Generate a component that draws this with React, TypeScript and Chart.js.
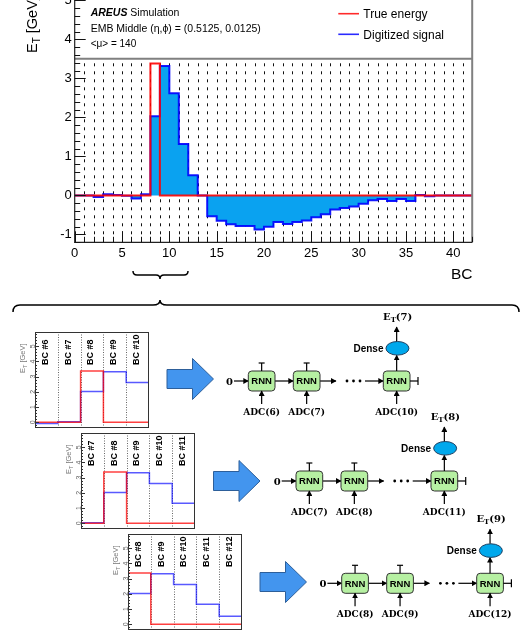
import React, { useEffect, useRef } from "react";
import { Chart, registerables } from "chart.js";

Chart.register(...registerables);

// ---------------- data ----------------
const digitizedSignal = [
  0.0, 0.0, -0.04, 0.03, 0.01, -0.01, -0.08, 0.03, 2.03, 3.32,
  2.62, 1.32, 0.52, 0.0, -0.53, -0.65, -0.74, -0.78, -0.78, -0.87,
  -0.8, -0.68, -0.73, -0.68, -0.64, -0.56, -0.48, -0.36, -0.32, -0.28,
  -0.21, -0.12, -0.09, -0.14, -0.09, -0.14, 0.01, -0.02, 0.0, 0.0,
  0.0, 0.0,
];
const trueEnergy = [
  0, 0, 0, 0, 0, 0, 0, 0, 3.38, 0,
  0, 0, 0, 0, 0, 0, 0, 0, 0, 0,
  0, 0, 0, 0, 0, 0, 0, 0, 0, 0,
  0, 0, 0, 0, 0, 0, 0, 0, 0, 0,
  0, 0,
];
const xTickLabels = [0, 5, 10, 15, 20, 25, 30, 35, 40];
const yTickLabels = [-1, 0, 1, 2, 3, 4, 5];
const legendLabels = ["True energy", "Digitized signal"];
const windowStartBC = [6, 7, 8];
const windowSize = 5;
const smallYTickLabels = [0, 1, 2, 3, 4, 5];
const adcInputs = [
  [6, 7, 10],
  [7, 8, 11],
  [8, 9, 12],
];
const etOutputs = [7, 8, 9];

const SANS = "'Liberation Sans', Arial, Helvetica, sans-serif";
const SERIF = "'DejaVu Serif', 'Liberation Serif', serif";

function stepPoints(vals: number[]) {
  const pts = vals.map((v, i) => ({ x: i, y: v }));
  pts.push({ x: vals.length, y: vals[vals.length - 1] });
  return pts;
}

// ---------------- main chart ----------------
const mainPlugin = {
  id: "rootStyle",
  beforeDatasetsDraw(chart: any) {
    const { ctx, chartArea: a, scales } = chart;
    const x = scales.x, y = scales.y;
    const top = y.getPixelForValue(3.5);
    ctx.save();
    ctx.strokeStyle = "#111";
    ctx.lineWidth = 1;
    ctx.setLineDash([3, 5]);
    for (let i = 1; i < 42; i++) {
      const px = Math.round(x.getPixelForValue(i)) + 0.5;
      ctx.beginPath();
      ctx.moveTo(px, a.bottom);
      ctx.lineTo(px, top);
      ctx.stroke();
    }
    ctx.restore();
  },
  afterDatasetsDraw(chart: any) {
    const { ctx, chartArea: a, scales } = chart;
    const x = scales.x, y = scales.y;
    const boxB = y.getPixelForValue(3.5);
    ctx.save();
    ctx.fillStyle = "#fff";
    ctx.fillRect(a.left, a.top - 30, a.right - a.left, boxB - a.top + 30);
    ctx.strokeStyle = "#808080";
    ctx.lineWidth = 2;
    ctx.beginPath();
    ctx.moveTo(a.left, boxB);
    ctx.lineTo(a.right, boxB);
    ctx.moveTo(a.right, a.top - 30);
    ctx.lineTo(a.right, a.bottom);
    ctx.stroke();
    // axes
    ctx.strokeStyle = "#222";
    ctx.lineWidth = 1.2;
    ctx.beginPath();
    ctx.moveTo(a.left, a.top - 30);
    ctx.lineTo(a.left, a.bottom);
    ctx.lineTo(a.right, a.bottom);
    ctx.stroke();
    // ticks
    ctx.lineWidth = 1;
    ctx.strokeStyle = "#111";
    ctx.beginPath();
    for (let k = -6; k <= 26; k++) {
      const py = Math.round(y.getPixelForValue(k / 5)) + 0.5;
      const len = k % 5 === 0 ? 11 : 5.5;
      ctx.moveTo(a.left, py);
      ctx.lineTo(a.left + len, py);
    }
    for (let i = 0; i <= 42; i++) {
      const px = Math.round(x.getPixelForValue(i)) + 0.5;
      const len = i % 5 === 0 ? 11 : 5.5;
      ctx.moveTo(px, a.bottom);
      ctx.lineTo(px, a.bottom - len);
    }
    ctx.stroke();
    ctx.restore();
  },
};

function MainChart() {
  const ref = useRef<HTMLCanvasElement>(null);
  useEffect(() => {
    const chart = new Chart(ref.current as HTMLCanvasElement, {
      type: "line",
      data: {
        datasets: [
          {
            label: legendLabels[0],
            data: stepPoints(trueEnergy),
            stepped: true,
            borderColor: "rgba(255,0,0,0.9)",
            borderWidth: 2,
            fill: false,
            pointRadius: 0,
          },
          {
            label: legendLabels[1],
            data: stepPoints(digitizedSignal),
            stepped: true,
            borderColor: "rgba(0,0,255,0.9)",
            borderWidth: 2,
            backgroundColor: "#0aa2f0",
            fill: "origin",
            pointRadius: 0,
          },
        ],
      } as any,
      options: {
        animation: false,
        responsive: false,
        devicePixelRatio: 1,
        events: [],
        layout: { padding: { left: 14.7, right: 49.8, top: 12.5, bottom: 5.7 } },
        plugins: { legend: { display: false }, tooltip: { enabled: false } },
        scales: {
          x: {
            type: "linear",
            min: 0,
            max: 42,
            afterFit: (s: any) => {
              s.height = 22;
            },
            afterBuildTicks: (s: any) => {
              s.ticks = xTickLabels.map((v) => ({ value: v }));
            },
            grid: { display: false, drawTicks: false },
            border: { display: false },
            ticks: {
              font: { family: SANS, size: 13 },
              color: "#000",
              padding: 3,
              maxRotation: 0,
              autoSkip: false,
            },
          },
          y: {
            type: "linear",
            min: -1.2,
            max: 5.2,
            afterFit: (s: any) => {
              s.width = 60;
            },
            afterBuildTicks: (s: any) => {
              s.ticks = yTickLabels.map((v) => ({ value: v }));
            },
            grid: { display: false, drawTicks: false },
            border: { display: false },
            ticks: {
              font: { family: SANS, size: 13 },
              color: "#000",
              padding: 3,
              autoSkip: false,
            },
          },
        },
      } as any,
      plugins: [mainPlugin],
    });
    return () => chart.destroy();
  }, []);
  return (
    <canvas
      ref={ref}
      width={522}
      height={290}
      style={{ position: "absolute", left: 0, top: -20, width: 522, height: 290 }}
    />
  );
}

// ---------------- small charts ----------------
const PADL = 26, PADT = 4, PADR = 4, PADB = 4;
const SW = 114, SH = 96;

function makeSmallPlugin(startBC: number) {
  return {
    id: "smallFrame",
    beforeDatasetsDraw(chart: any) {
      const { ctx, chartArea: a, scales } = chart;
      const x = scales.x;
      ctx.save();
      ctx.strokeStyle = "#666";
      ctx.lineWidth = 1;
      ctx.setLineDash([1, 1.5]);
      for (let i = 1; i < windowSize; i++) {
        const px = Math.round(x.getPixelForValue(i)) + 0.5;
        ctx.beginPath();
        ctx.moveTo(px, a.top);
        ctx.lineTo(px, a.bottom);
        ctx.stroke();
      }
      ctx.restore();
    },
    afterDraw(chart: any) {
      const { ctx, chartArea: a, scales } = chart;
      const x = scales.x, y = scales.y;
      ctx.save();
      ctx.strokeStyle = "#333";
      ctx.lineWidth = 1;
      ctx.strokeRect(a.left + 0.5, a.top + 0.5, a.right - a.left - 1, a.bottom - a.top - 1);
      // ticks
      ctx.beginPath();
      for (let k = -1; k <= 29; k++) {
        const py = Math.round(y.getPixelForValue(k / 5)) + 0.5;
        if (py < a.top || py > a.bottom) continue;
        const len = k % 5 === 0 ? 4 : 2;
        ctx.moveTo(a.left, py);
        ctx.lineTo(a.left + len, py);
      }
      ctx.stroke();
      // tick labels (rotated)
      ctx.fillStyle = "#666";
      ctx.font = `7px ${SANS}`;
      ctx.textAlign = "center";
      ctx.textBaseline = "middle";
      smallYTickLabels.forEach((v) => {
        const py = y.getPixelForValue(v);
        ctx.save();
        ctx.translate(a.left - 2, py);
        ctx.rotate(-Math.PI / 2);
        ctx.fillText(String(v), 0, 0);
        ctx.restore();
      });
      // y title
      ctx.save();
      ctx.translate(a.left - 12, a.top + 41);
      ctx.rotate(-Math.PI / 2);
      ctx.fillStyle = "#777";
      ctx.textAlign = "left";
      ctx.textBaseline = "middle";
      ctx.font = `7.5px ${SANS}`;
      ctx.fillText("E", 0, 0);
      let w = ctx.measureText("E").width;
      ctx.font = `5.5px ${SANS}`;
      ctx.fillText("T", w, 2);
      w += ctx.measureText("T").width;
      ctx.font = `7.5px ${SANS}`;
      ctx.fillText(" [GeV]", w, 0);
      ctx.restore();
      // BC labels
      ctx.fillStyle = "#000";
      ctx.font = `bold 9px ${SANS}`;
      ctx.textAlign = "left";
      ctx.textBaseline = "middle";
      for (let i = 0; i < windowSize; i++) {
        const cx = x.getPixelForValue(i + 0.5);
        ctx.save();
        ctx.translate(cx - 1, a.top + 33);
        ctx.rotate(-Math.PI / 2);
        ctx.fillText(`BC #${startBC + i}`, 0, 0);
        ctx.restore();
      }
      ctx.restore();
    },
  };
}

function SmallChart({ startBC, left, top }: { startBC: number; left: number; top: number }) {
  const ref = useRef<HTMLCanvasElement>(null);
  useEffect(() => {
    const blue = digitizedSignal.slice(startBC, startBC + windowSize);
    const red = trueEnergy.slice(startBC, startBC + windowSize);
    const chart = new Chart(ref.current as HTMLCanvasElement, {
      type: "line",
      data: {
        datasets: [
          {
            data: stepPoints(red),
            stepped: true,
            borderColor: "rgba(255,0,0,0.75)",
            borderWidth: 1.5,
            fill: false,
            pointRadius: 0,
          },
          {
            data: stepPoints(blue),
            stepped: true,
            borderColor: "rgba(0,0,255,0.65)",
            borderWidth: 1.5,
            fill: false,
            pointRadius: 0,
          },
        ],
      } as any,
      options: {
        animation: false,
        responsive: false,
        devicePixelRatio: 1,
        events: [],
        layout: { padding: { left: PADL, right: PADR, top: PADT, bottom: PADB } },
        plugins: { legend: { display: false }, tooltip: { enabled: false } },
        scales: {
          x: { type: "linear", min: 0, max: windowSize, display: false },
          y: { type: "linear", min: -0.38, max: 5.94, display: false },
        },
      } as any,
      plugins: [makeSmallPlugin(startBC)],
    });
    return () => chart.destroy();
  }, [startBC]);
  const W = SW + PADL + PADR, H = SH + PADT + PADB;
  return (
    <canvas
      ref={ref}
      width={W}
      height={H}
      style={{ position: "absolute", left: left - PADL, top: top - PADT, width: W, height: H }}
    />
  );
}

// ---------------- diagram parts ----------------
function Arr({ x1, y1, x2, y2 }: { x1: number; y1: number; x2: number; y2: number }) {
  return <line x1={x1} y1={y1} x2={x2} y2={y2} stroke="#000" strokeWidth={1.2} markerEnd="url(#ah)" />;
}

function BlockArrow({ left, cy }: { left: number; cy: number }) {
  const L = 46.5, head = 21, sh = 9.5, hh = 20.5;
  const b = left + L - head;
  const pts = [
    [left, cy - sh],
    [b, cy - sh],
    [b, cy - hh],
    [left + L, cy],
    [b, cy + hh],
    [b, cy + sh],
    [left, cy + sh],
  ]
    .map((p) => p.join(","))
    .join(" ");
  return <polygon points={pts} fill="#4395ee" stroke="#2d5f9a" strokeWidth={1} />;
}

function RnnDiagram({ dx, dy, adc, et }: { dx: number; dy: number; adc: number[]; et: number }) {
  const boxX = [248.3, 293.3, 383.3];
  const bw = 26.7, bh = 20, by = 371, cy = 381;
  const cx = boxX.map((b) => b + bw / 2);
  const ex = cx[2] + 0.8, ey = 348.3;
  return (
    <g transform={`translate(${dx} ${dy})`}>
      <text x={229.5} y={cy + 3.5} fontFamily={SERIF} fontWeight="bold" fontSize={10} textAnchor="middle">
        0
      </text>
      <Arr x1={234} y1={cy} x2={boxX[0]} y2={cy} />
      <Arr x1={boxX[0] + bw} y1={cy} x2={boxX[1]} y2={cy} />
      <Arr x1={boxX[1] + bw} y1={cy} x2={336} y2={cy} />
      {[347, 353.5, 360].map((d) => (
        <circle key={d} cx={d} cy={cy} r={1.4} fill="#000" />
      ))}
      <Arr x1={365} y1={cy} x2={boxX[2]} y2={cy} />
      {boxX.map((b, i) => (
        <g key={i}>
          <rect x={b} y={by} width={bw} height={bh} rx={3.5} fill="#b6f0a2" stroke="#333" strokeWidth={1} />
          <text x={cx[i]} y={cy + 3.4} fontFamily={SANS} fontWeight="bold" fontSize={9.5} textAnchor="middle">
            RNN
          </text>
          <Arr x1={cx[i]} y1={by + bh + 13} x2={cx[i]} y2={by + bh} />
          <text x={cx[i]} y={by + bh + 24} fontFamily={SERIF} fontWeight="bold" fontSize={9} textAnchor="middle">
            {`ADC(${adc[i]})`}
          </text>
        </g>
      ))}
      {[0, 1].map((i) => (
        <g key={"t" + i}>
          <line x1={cx[i]} y1={by} x2={cx[i]} y2={by - 8} stroke="#000" strokeWidth={1.2} />
          <line x1={cx[i] - 3} y1={by - 8} x2={cx[i] + 3} y2={by - 8} stroke="#000" strokeWidth={1.2} />
        </g>
      ))}
      <line x1={boxX[2] + bw} y1={cy} x2={boxX[2] + bw + 8} y2={cy} stroke="#000" strokeWidth={1.2} />
      <line x1={boxX[2] + bw + 8} y1={cy - 4} x2={boxX[2] + bw + 8} y2={cy + 4} stroke="#000" strokeWidth={1.2} />
      <Arr x1={cx[2]} y1={by} x2={cx[2]} y2={ey + 7} />
      <ellipse cx={ex} cy={ey} rx={11.5} ry={6.8} fill="#00a8ec" stroke="#1f3f60" strokeWidth={1} />
      <text x={ex - 14} y={ey + 3.4} fontFamily={SANS} fontWeight="bold" fontSize={10} textAnchor="end">
        Dense
      </text>
      <Arr x1={cx[2]} y1={ey - 7} x2={cx[2]} y2={327} />
      <text x={cx[2] + 1} y={319.5} fontFamily={SERIF} fontWeight="bold" fontSize={10} textAnchor="middle">
        <tspan>E</tspan>
        <tspan dy={2} fontSize={7}>
          T
        </tspan>
        <tspan dy={-2}>{`(${et})`}</tspan>
      </text>
    </g>
  );
}

const smallPos = [
  { left: 35, top: 332 },
  { left: 81, top: 433 },
  { left: 128, top: 534 },
];
const arrowPos = [
  { left: 167, cy: 379 },
  { left: 213.5, cy: 481 },
  { left: 260, cy: 582 },
];
const diagramOffsets = [
  { dx: 0, dy: 0 },
  { dx: 47.7, dy: 100 },
  { dx: 93.4, dy: 202.3 },
];

export default function App() {
  return (
    <div
      style={{
        position: "fixed",
        left: 0,
        top: 0,
        width: 522,
        height: 640,
        overflow: "hidden",
        background: "#fff",
      }}
    >
      <MainChart />
      {windowStartBC.map((s, i) => (
        <SmallChart key={s} startBC={s} left={smallPos[i].left} top={smallPos[i].top} />
      ))}
      <svg
        width={522}
        height={640}
        style={{ position: "absolute", left: 0, top: 0, pointerEvents: "none" }}
      >
        <defs>
          <marker id="ah" markerUnits="userSpaceOnUse" markerWidth={6} markerHeight={6} refX={5} refY={3} orient="auto">
            <path d="M0,0 L5.5,3 L0,6 z" fill="#000" />
          </marker>
        </defs>
        {/* y axis title */}
        <text
          x={37}
          y={53}
          transform="rotate(-90 37 53)"
          fontFamily={SANS}
          fontSize={14.5}
          fill="#000"
        >
          <tspan>E</tspan>
          <tspan dy={3} fontSize={10}>
            T
          </tspan>
          <tspan dy={-3}> [GeV]</tspan>
        </text>
        {/* x axis title */}
        <text x={472.5} y={279} fontFamily={SANS} fontSize={15.5} textAnchor="end">
          BC
        </text>
        {/* annotations */}
        <text x={90.7} y={15.5} fontFamily={SANS} fontSize={10.5}>
          <tspan fontWeight="bold" fontStyle="italic">
            AREUS
          </tspan>
          <tspan> Simulation</tspan>
        </text>
        <text x={90.7} y={31.8} fontFamily={SANS} fontSize={10.5}>
          EMB Middle (η,ϕ) = (0.5125, 0.0125)
        </text>
        <text x={90.7} y={47} fontFamily={SANS} fontSize={10}>
          {"<μ> = 140"}
        </text>
        {/* legend */}
        <line x1={338.3} y1={13.7} x2={359} y2={13.7} stroke="#ff2a2a" strokeWidth={1.6} />
        <text x={363.3} y={18} fontFamily={SANS} fontSize={12}>
          {legendLabels[0]}
        </text>
        <line x1={338.3} y1={34.3} x2={359} y2={34.3} stroke="#2a2aff" strokeWidth={1.6} />
        <text x={363.3} y={38.6} fontFamily={SANS} fontSize={12}>
          {legendLabels[1]}
        </text>
        {/* small brace under BC 8-13 */}
        <path
          d="M133,271 Q133,275 137,275 L156,275 Q160,275 160,279 Q160,275 164,275 L184,275 Q188,275 188,271"
          fill="none"
          stroke="#000"
          strokeWidth={1.5}
        />
        {/* large brace */}
        <path
          d="M13,312 Q13,305 20,305 L153,305 Q160,305 160,300 Q160,305 167,305 L512,305 Q519,305 519,312"
          fill="none"
          stroke="#000"
          strokeWidth={1.5}
        />
        {arrowPos.map((p, i) => (
          <BlockArrow key={i} left={p.left} cy={p.cy} />
        ))}
        {diagramOffsets.map((o, i) => (
          <RnnDiagram key={i} dx={o.dx} dy={o.dy} adc={adcInputs[i]} et={etOutputs[i]} />
        ))}
      </svg>
    </div>
  );
}
